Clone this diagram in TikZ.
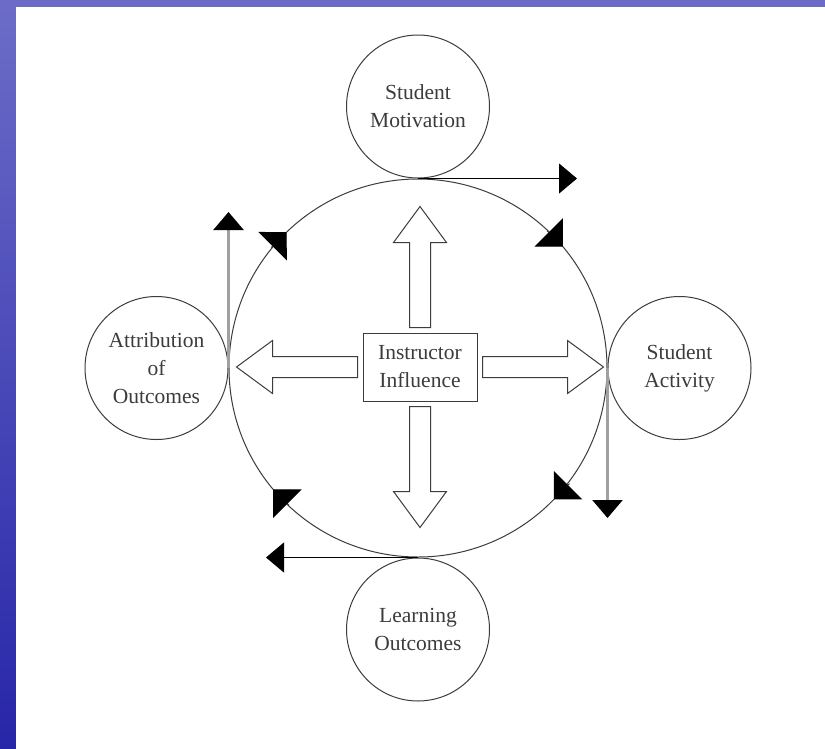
\documentclass[tikz,border=0pt]{standalone}
\usepackage{fontspec}
\setmainfont{Liberation Serif}
\usepackage{xcolor}
\definecolor{slidetop}{RGB}{108,108,200}
\definecolor{slidebottom}{RGB}{40,38,168}
\definecolor{inkgray}{RGB}{60,60,60}
\definecolor{railgray}{RGB}{160,160,160}
\usepackage{tikz}
\usetikzlibrary{positioning,arrows.meta,calc}

\newcommand{\blockarrow}[2]{%
  \draw[hollow,shift={(#1)},rotate=#2] (5,-10.5) -- (90,-10.5) -- (90,-26.5) -- (126,0) -- (90,26.5) -- (90,10.5) -- (5,10.5) -- cycle;}

\begin{document}
\begin{tikzpicture}[x=1pt,y=1pt,
  every node/.style={font=\fontsize{21.5}{28}\selectfont,text=inkgray},
  satellite/.style={circle,draw=inkgray,line width=1pt,minimum size=143pt,inner sep=0pt,align=center},
  hollow/.style={draw=inkgray,line width=1pt,fill=white},
  tangent/.style={line width=1.1pt,-{Triangle[length=18pt,width=30pt,color=black]}},
  rail/.style={tangent,draw=railgray,line width=2.5pt},
  flow/.style={line width=1pt,draw=inkgray,-{Triangle[length=20pt,width=40pt,color=black]}}]
\useasboundingbox (0,0) rectangle (825,-748);
\shade[top color=slidetop,bottom color=slidebottom] (0,0) rectangle (825,-748);
\fill[white] (16,-7) rectangle (830,-755);

\node[circle,draw=inkgray,line width=1pt,minimum size=378pt,inner sep=0pt] (cycle) at (418,-368) {};
\node[satellite,above=0pt of cycle] (motiv) {Student\\Motivation};
\node[satellite,right=0pt of cycle] (act) {Student\\Activity};
\node[satellite,below=0pt of cycle] (learn) {Learning\\Outcomes};
\node[satellite,left=0pt of cycle] (attrib) {Attribution\\of\\Outcomes};
\node[draw=inkgray,line width=1pt,minimum width=114pt,minimum height=68pt,inner sep=0pt,align=center] (infl) at ($(cycle.center)+(2,1)$) {Instructor\\Influence};

\blockarrow{infl.north}{90}
\blockarrow{infl.east}{0}
\blockarrow{infl.south}{-90}
\blockarrow{infl.west}{180}

\coordinate (motivtip) at ($(cycle.north)+(159,0)$);
\coordinate (acttip) at ($(cycle.east)+(0,-150)$);
\coordinate (learntip) at ($(cycle.south)+(-152,0)$);
\coordinate (attribtip) at ($(cycle.west)+(0,156)$);
\draw[tangent] (cycle.north) -- (motivtip);
\draw[rail] (cycle.east) -- (acttip);
\draw[tangent] (cycle.south) -- (learntip);
\draw[rail] (cycle.west) -- (attribtip);

\foreach \p/\d in {134/135,40/45,-44/-45,220/225}
  \draw[flow] ($(cycle.center)+(\p:189)+(\d+90:22)$) -- ($(cycle.center)+(\p:189)$);
\end{tikzpicture}
\end{document}
